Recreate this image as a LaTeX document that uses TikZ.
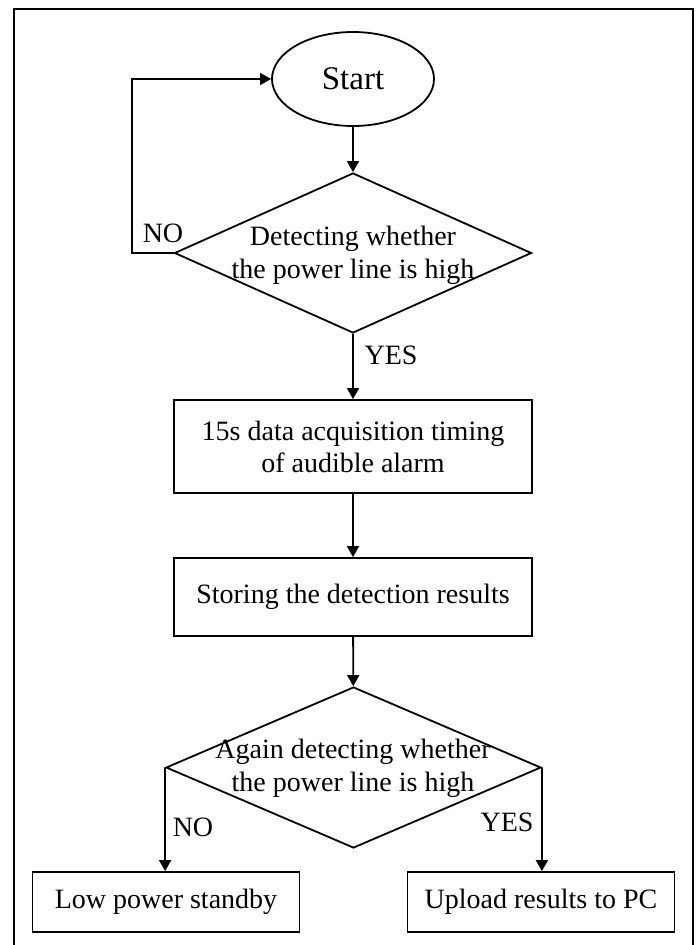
\documentclass[tikz,border=0pt]{standalone}
\usepackage{fontspec}
\setmainfont{Liberation Serif}
\usetikzlibrary{shapes.geometric,arrows.meta}
\begin{document}
\begin{tikzpicture}[x=1pt,y=-1pt,
  line width=1.8pt,
  txt/.style={font=\fontsize{28}{33}\selectfont, align=center, inner sep=0pt},
  lbl/.style={font=\fontsize{28}{33}\selectfont, inner sep=0pt},
  stepbox/.style={draw, rectangle, inner sep=0pt, font=\fontsize{28}{32}\selectfont, align=center},
  decide/.style={draw, diamond, inner sep=0pt},
  arr/.style={-{Triangle[length=11pt,width=12pt]}}
]
\useasboundingbox (0,0) rectangle (699,945);
\draw[line width=2.3pt] (14,950) -- (14,9) -- (693,9) -- (693,950);

\node[draw, ellipse, minimum width=162pt, minimum height=94pt, inner sep=0pt,
      font=\fontsize{33}{36}\selectfont] (start) at (353,79) {Start};

\node[decide, minimum width=357pt, minimum height=160pt] (d1) at (353,253) {};
\node[txt] (d1t) at (353,255) {Detecting whether\\the power line is high};

\node[stepbox, minimum width=358pt, minimum height=93pt] (b1) at (353,446.5)
  {15s data acquisition timing\\of audible alarm};
\node[stepbox, minimum width=358pt, minimum height=78pt] (b2) at (353,597)
  {Storing the detection results};

\node[decide, minimum width=375pt, minimum height=161pt] (d2) at (353.5,767.5) {};
\node[txt] (d2t) at (353,768) {Again detecting whether\\the power line is high};

\node[stepbox, minimum width=267pt, minimum height=60pt] (b3) at (166,902)
  {Low power standby};
\node[stepbox, minimum width=267pt, minimum height=60pt] (b4) at (541,902)
  {Upload results to PC};

\coordinate (loopx) at (132,0);
\draw[arr] (start) -- (d1);
\draw[arr] (d1.west) -- (d1.west -| loopx) |- (start.west);
\draw[arr] (d1) -- (b1);
\draw[arr] (b1) -- (b2);
\draw[arr] (b2) -- (d2);
\draw[arr] (d2.west) -- (d2.west |- b3.north);
\draw[arr] (d2.east) -- (d2.east |- b4.north);

\node[lbl] (no1) at (163,233) {NO};
\node[lbl] (yes1) at (391,355) {YES};
\node[lbl] (no2) at (193,827) {NO};
\node[lbl] (yes2) at (507,822) {YES};
\end{tikzpicture}
\end{document}
